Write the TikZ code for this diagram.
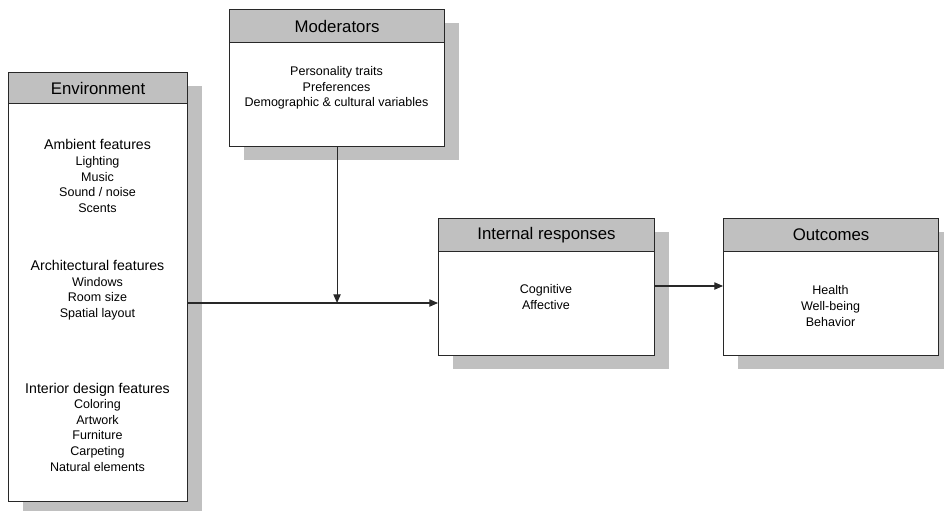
\documentclass[tikz,border=0pt]{standalone}
\usepackage{fontspec}
\setmainfont{Liberation Sans}
\usetikzlibrary{arrows.meta,shadows}
\definecolor{boxgray}{RGB}{192,192,192}
\definecolor{edgegray}{RGB}{40,40,40}
\newcommand{\subhead}{\fontsize{10.6}{12}\selectfont}
\begin{document}
\begin{tikzpicture}[x=0.75pt,y=-0.75pt,
  panel/.style={draw=edgegray, line width=0.8pt, fill=white, anchor=north west,
    inner sep=0pt,
    drop shadow={shadow xshift=10.5pt, shadow yshift=-9.75pt, fill=boxgray, opacity=1}},
  head/.style={draw=edgegray, line width=0.8pt, fill=boxgray, anchor=north west,
    inner sep=0pt, font=\fontsize{12.6}{14}\selectfont},
  body/.style={align=center, inner sep=0pt, text=black,
    font=\fontsize{9.4}{11.7}\selectfont},
  conn/.style={draw=edgegray, line width=0.8pt},
  tip/.style={-{Triangle[length=6.5pt,width=5.5pt]}}
]
\useasboundingbox (0,0) rectangle (944,510);

% Environment
\node[panel, minimum width=134.25pt, minimum height=321.75pt] (env) at (8,72) {};
\node[head, minimum width=134.25pt, minimum height=23.25pt] (envh) at (env.north west) {Environment};
\node[body] (amb) at (97.5,176) {{\subhead Ambient features}\\Lighting\\Music\\Sound / noise\\Scents};
\node[body] (arch) at (97.5,290) {{\subhead Architectural features}\\Windows\\Room size\\Spatial layout};
\node[body] (inter) at (97.5,427) {{\subhead Interior design features}\\Coloring\\Artwork\\Furniture\\Carpeting\\Natural elements};

% Moderators
\node[panel, minimum width=161.25pt, minimum height=102.75pt] (mod) at (229,9) {};
\node[head, minimum width=161.25pt, minimum height=24.75pt] (modh) at (mod.north west) {Moderators};
\node[body] (modt) at (336.5,88) {Personality traits\\Preferences\\Demographic \& cultural variables};

% Internal responses
\node[panel, minimum width=162pt, minimum height=102.75pt] (int) at (438,218) {};
\node[head, minimum width=162pt, minimum height=24.75pt] (inth) at (int.north west) {Internal responses};
\node[body] (intt) at (546,297) {Cognitive\\Affective};

% Outcomes
\node[panel, minimum width=161.25pt, minimum height=102.75pt] (out) at (723,218) {};
\node[head, minimum width=161.25pt, minimum height=24.75pt] (outh) at (out.north west) {Outcomes};
\node[body] (outt) at (830.5,306) {Health\\Well-being\\Behavior};

% Connectors
\coordinate (join) at (mod.south |- 0,303);
\draw[conn,tip] (env.east |- join) -- (int.west |- join);
\draw[conn,tip] (mod.south) -- (join);
\draw[conn,tip] (int.east |- 0,286) -- (out.west |- 0,286);
\end{tikzpicture}
\end{document}
